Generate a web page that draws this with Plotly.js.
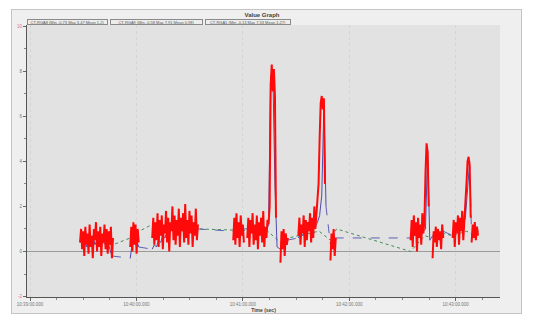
<!DOCTYPE html>
<html>
<head>
<meta charset="utf-8">
<script src="https://cdn.plot.ly/plotly-3.0.1.min.js"></script>
<style>
  html, body { margin: 0; padding: 0; background: #ffffff; }
  #frame { position: absolute; left: 11px; top: 9px; width: 509px; height: 303px;
           background: #efefef; border: 1px solid #c4c4c4; }
  #chart { position: absolute; left: 0; top: 0; width: 550px; height: 325px; }
</style>
</head>
<body>
<div id="frame"></div>
<div id="chart"></div>
<script>
// time axis: seconds after 10:39:00.000
const tickTimes = [0, 60, 120, 180, 240];
const tickLabels = ['10:39:00.000', '10:40:00.000', '10:41:00.000', '10:42:00.000', '10:43:00.000'];
const seriesNames = [
    'CT-RGA8 (Min -0.73 Max 3.47 Mean 1.2)',
    'CT-RGA9 (Min -0.58 Max 7.91 Mean 0.98)',
    'CT-RGA1 (Min -0.13 Max 7.33 Mean 1.27)'
];

// red channel, sampled every 0.6 s, one array per recording burst
const redStep = 0.6;
const redStarts = [28.2, 56.5, 68.9, 114.6, 122.5, 141.2, 151.3, 169.4, 214.6, 227.0, 238.3, 249.0];
const red1 = [0.4, 1.0, 0.1, 0.9, -0.2, 1.1, 0.3, 0.8, -0.1, 1.2, 0.2, 0.7, -0.3, 1.0, 0.5, 1.3, 0.0, 0.9, 0.2, 1.1, -0.2, 0.8, 0.4, 1.2, 0.1, 1.0, -0.1, 0.9, 0.3, 1.1, -0.3, 0.6];
const red2 = [0.2, 1.1, 0.0, 1.3, 0.3, 1.2, -0.1, 1.0, 0.4];
const red3 = [0.6, 1.5, 0.3, 1.3, 0.5, 1.7, 0.2, 1.4, 0.7, 1.6, 0.1, 1.2, 0.8, 1.8, 0.4, 1.5, 0.0, 1.3, 0.9, 2.0, 0.5, 1.6, 0.3, 1.4, 0.7, 1.9, 0.2, 1.5, 0.9, 1.7, 0.4, 2.1, 0.6, 1.4, 0.3, 1.8, 0.8, 1.6, 0.2, 1.3, 0.7, 1.9, 0.5, 1.2];
const red4 = [0.5, 1.5, 0.3, 1.7, 0.6, 1.3, 0.2, 1.6, 0.7, 1.2, 0.4];
const red5 = [0.6, 1.5, 0.2, 1.4, 0.8, 1.7, 0.3, 1.2, 0.5, 1.6, 0.1, 1.3, 0.7, 1.5, 0.4, 1.8, 0.2, 1.1, 0.6, 1.4, 1.2, 2.0, 7.4, 8.3, 7.1, 8.1, 6.9, 1.5];
const red6 = [-0.5, 0.9, 0.1, 1.0, -0.2, 0.8, 0.3, 0.6];
const red7 = [0.7, 1.5, 0.3, 1.2, 0.8, 1.6, 0.2, 1.4, 0.5, 1.3, 0.9, 1.7, 0.4, 1.5, 0.6, 2.0, 1.0, 1.8, 2.4, 3.0, 5.0, 6.6, 6.9, 6.3, 6.8, 3.0];
const red8 = [-0.4, 0.8, 0.1, 1.0, -0.2, 0.6];
const red9 = [0.5, 1.4, 0.2, 1.6, 0.7, 1.3, 0.0, 1.5, 0.6, 1.2, 0.3, 1.7, 0.8, 1.4, 3.5, 4.8, 4.4, 2.0];
const red10 = [-0.3, 0.9, 0.4, 1.1, 0.2, 1.0, 0.5, 0.9, 0.1, 1.2, 0.6];
const red11 = [0.6, 1.4, 0.2, 1.3, 0.8, 1.6, 0.3, 1.5, 0.9, 1.8, 0.5, 1.7, 2.2, 3.0, 4.0, 4.2, 3.8, 1.5];
const red12 = [0.4, 1.2, 0.6, 1.3, 0.5, 1.1, 0.7];

// blue channel, sampled every 1.2 s
const blueStep = 1.2;
const blueStarts = [28.2, 56.5, 68.9, 114.6, 122.5, 141.2, 151.3, 169.4, 214.6, 227.0, 238.3, 249.0];
const blue1 = [0.5, 0.3, 0.6, 0.2, 0.5, 0.4, 0.7, 0.3, 0.5, 0.2, 0.6, 0.4, 0.3, 0.5, 0.1, -0.2];
const blue2 = [-0.3, 0.4, 0.8, 0.5, 0.2];
const blue3 = [0.1, 0.3, 0.2, 0.5, 0.4, 0.7, 0.6, 0.9, 0.8, 1.0, 0.9, 1.1, 1.0, 1.2, 0.9, 1.1, 1.0, 1.2, 1.1, 1.0, 1.1, 1.0];
const blue4 = [0.9, 1.0, 0.8, 1.1, 0.9, 1.0];
const blue5 = [1.0, 0.8, 1.1, 0.9, 1.0, 0.8, 1.0, 0.9, 1.1, 0.9, 1.2, 7.8, 8.0, 3.0, 0.2];
const blue6 = [0.1, 0.4, 0.6, 0.5];
const blue7 = [0.6, 0.8, 0.7, 0.9, 0.8, 1.0, 0.9, 1.0, 1.1, 1.3, 1.6, 2.5, 6.5, 2.0];
const blue8 = [0.3, 0.7, 0.6];
const blue9 = [0.6, 0.8, 0.7, 0.9, 0.8, 0.7, 0.9, 1.0, 4.5, 0.5];
const blue10 = [0.7, 0.8, 0.6, 0.8, 0.7, 0.9];
const blue11 = [0.7, 0.8, 1.0, 0.9, 1.1, 1.2, 1.5, 2.8, 4.0];
const blue12 = [0.6, 0.9, 0.8, 1.0];

// green channel, sparse readings
const greenTime = [28.0, 46.9, 56.5, 61.6, 68.9, 94.9, 114.6, 134.0, 141.2, 145.7, 151.3, 163.0, 169.4, 172.8, 214.6, 222.5, 227.0, 233.0, 238.3, 246.0, 249.0, 253.0];
const greenVal = [0.5, 0.3, 0.6, 0.9, 1.2, 1.0, 0.95, 0.9, 0.4, 0.6, 0.7, 0.9, 0.5, 1.0, 0.0, 0.7, 0.6, 0.8, 0.7, 0.9, 0.8, 0.9];


const redSegs = [red1, red2, red3, red4, red5, red6, red7, red8, red9, red10, red11, red12];
const blueSegs = [blue1, blue2, blue3, blue4, blue5, blue6, blue7, blue8, blue9, blue10, blue11, blue12];

// join bursts into one trace, null between bursts
function joinSegments(segs, starts, step) {
    const x = [], y = [];
    segs.forEach((vals, s) => {
        vals.forEach((v, i) => { x.push(starts[s] + i * step); y.push(v); });
        x.push(null); y.push(null);
    });
    return { x, y };
}

// dashed links between the end of one burst and the start of the next
function gapLinks(segs, starts, step) {
    const x = [], y = [];
    for (let s = 0; s < segs.length - 1; s++) {
        const last = segs[s].length - 1;
        x.push(starts[s] + last * step, starts[s + 1], null);
        y.push(segs[s][last], segs[s + 1][0], null);
    }
    return { x, y };
}

const redData = joinSegments(redSegs, redStarts, redStep);
const blueData = joinSegments(blueSegs, blueStarts, blueStep);
const blueGaps = gapLinks(blueSegs, blueStarts, blueStep);

const traces = [
    { x: greenTime, y: greenVal, type: 'scatter', mode: 'lines', name: seriesNames[2],
      line: { color: '#3f8f55', width: 1, dash: 'dot' } },
    { x: blueGaps.x, y: blueGaps.y, type: 'scatter', mode: 'lines', name: seriesNames[1],
      line: { color: '#6060b8', width: 1, dash: 'dash' } },
    { x: blueData.x, y: blueData.y, type: 'scatter', mode: 'lines', name: seriesNames[1],
      line: { color: '#4c4cae', width: 1 } },
    { x: redData.x, y: redData.y, type: 'scatter', mode: 'lines', name: seriesNames[0],
      line: { color: '#ff0a0a', width: 2 } }
];

// legend boxes drawn as annotations along the top of the plot
const legendLeft = [27, 110, 205];
const legendWidth = [83, 95, 88];
const plotL = 27, plotR = 500, plotT = 25, plotB = 297;
const px = v => (v - plotL) / (plotR - plotL);
const py = v => (plotB - v) / (plotB - plotT);

const legendNotes = seriesNames.map((n, i) => ({
    text: n,
    xref: 'paper', yref: 'paper',
    x: px(legendLeft[i]), y: py(19),
    xanchor: 'left', yanchor: 'top',
    width: legendWidth[i] - 4, height: 4,
    align: 'center',
    showarrow: false,
    font: { size: 4, color: '#555', family: 'Liberation Sans, Arial, sans-serif' },
    bgcolor: '#ededed', bordercolor: '#8a8a8a', borderwidth: 1, borderpad: 0
}));

const layout = {
    width: 550,
    height: 325,
    margin: { l: 27, r: 50, t: 25, b: 28 },
    paper_bgcolor: 'rgba(0,0,0,0)',
    plot_bgcolor: '#e2e2e2',
    showlegend: false,
    font: { family: 'Liberation Sans, Arial, sans-serif', size: 5, color: '#777' },
    title: {
        text: '<b>Value Graph</b>',
        font: { size: 6, color: '#444' },
        x: px(262), xref: 'paper', xanchor: 'center',
        y: 1 - 15 / 325, yanchor: 'middle'
    },
    xaxis: {
        range: [-1.7, 265],
        tickvals: tickTimes,
        ticktext: tickLabels,
        ticks: 'outside', ticklen: 3, tickcolor: '#666',
        minor: { dtick: 15, ticks: 'outside', ticklen: 2, tickcolor: '#888', showgrid: false },
        showgrid: true, gridcolor: '#d4d4d4', griddash: 'dot', gridwidth: 1,
        zeroline: false,
        showline: true, linecolor: '#555', linewidth: 1,
        tickfont: { size: 4.5, color: '#777' },
        title: { text: '<b>Time (sec)</b>', font: { size: 5, color: '#444' }, standoff: 2 }
    },
    yaxis: {
        range: [-2.02, 10.05],
        tickvals: [-2, 0, 2, 4, 6, 8, 10],
        ticktext: ['<span style="color:#e07070">-2</span>', '0', '2', '4', '6', '8', '<span style="color:#e07070">10</span>'],
        ticks: 'outside', ticklen: 3, tickcolor: '#666',
        minor: { dtick: 1, ticks: 'outside', ticklen: 2, tickcolor: '#888', showgrid: false },
        showgrid: false,
        zeroline: true, zerolinecolor: '#9a9a9a', zerolinewidth: 1,
        showline: true, linecolor: '#555', linewidth: 1,
        tickfont: { size: 4.5, color: '#777' }
    },
    annotations: legendNotes
};

Plotly.newPlot('chart', traces, layout, { staticPlot: true, displayModeBar: false });
</script>
</body>
</html>
